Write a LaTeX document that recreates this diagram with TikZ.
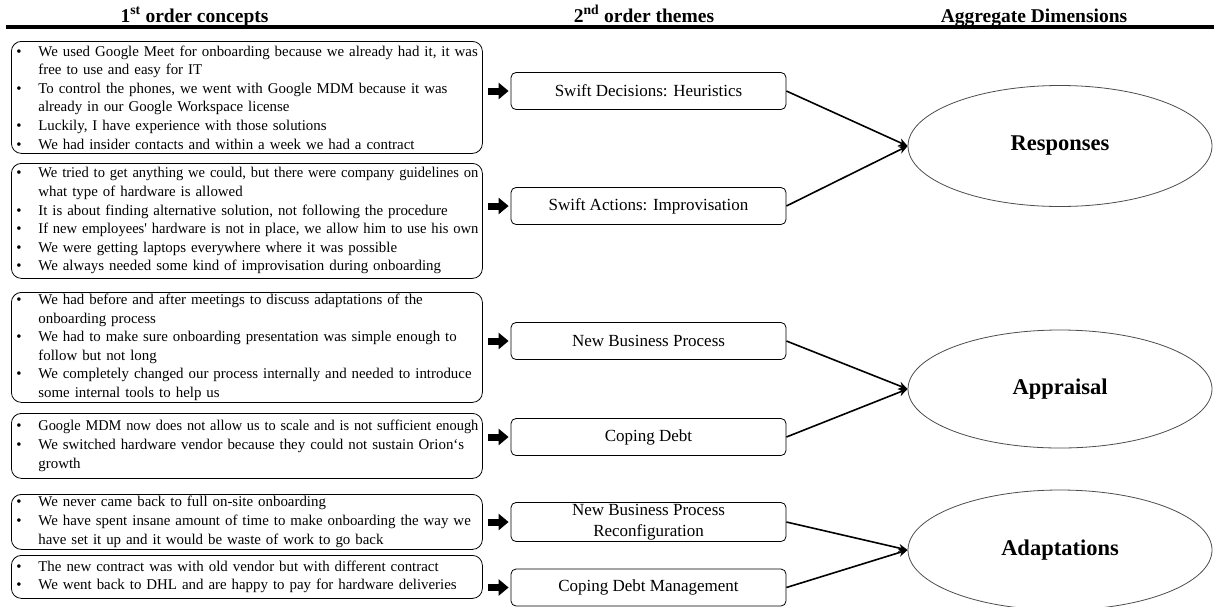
\documentclass[tikz,border=0pt]{standalone}
\usepackage{fontspec}
\setmainfont{Liberation Serif}
\usepackage{graphicx}
\usepackage{tikz}
\usetikzlibrary{shapes,positioning,arrows.meta}
\newcommand{\qline}[1]{\makebox[24.5pt][l]{\hspace{2.5pt}\textbullet}\mbox{#1}}
\newcommand{\qfit}[1]{\makebox[24.5pt][l]{\hspace{2.5pt}\textbullet}\resizebox{440pt}{\height}{#1}}
\newcommand{\qmore}[1]{\hspace*{24.5pt}\mbox{#1}}
\tikzset{concept/.style={draw,rounded corners=10pt,anchor=north west,text width=466pt,inner xsep=2.5pt,inner ysep=1pt,align=left,line width=0.8pt,font=\fontsize{14.9}{18.6}\selectfont}}
\tikzset{theme/.style={draw,rounded corners=5pt,minimum width=275pt,minimum height=37pt,inner sep=0pt,align=center,line width=0.8pt,font=\fontsize{17}{20.5}\selectfont}}
\tikzset{dimell/.style={ellipse,draw=black!70,line width=0.8pt,minimum width=304pt,minimum height=120pt,inner sep=0pt,font=\fontsize{22.5}{26}\selectfont\bfseries}}
\tikzset{colhead/.style={anchor=base,inner sep=0pt,font=\fontsize{19.5}{22}\selectfont\bfseries}}
\tikzset{fat/.style={line width=7pt,-{Triangle[length=10pt,width=16pt]},shorten <=5pt,shorten >=2pt}}

\begin{document}
\begin{tikzpicture}[x=1pt,y=-1pt,>={Stealth[length=9pt,width=8pt]}]
    \useasboundingbox (0,0) rectangle (1214,606);

    \node[colhead] (h1) at (194.5,22.5) {1\textsuperscript{st} order concepts};
    \node[colhead] (h2) at (644,22.5) {2\textsuperscript{nd} order themes};
    \node[colhead] (h3) at (1034,22.5) {Aggregate Dimensions};
    \draw[line width=4pt] (6,27) -- (1214,27);

    \node[concept,minimum height=112pt] (c1) at (11,41) {\qline{We used Google Meet for onboarding because we already had it, it was}\\
        \qmore{free to use and easy for IT}\\
        \qline{To control the phones, we went with Google MDM because it was}\\
        \qmore{already in our Google Workspace license}\\
        \qline{Luckily, I have experience with those solutions}\\
        \qline{We had insider contacts and within a week we had a contract}};
    \node[concept,minimum height=115pt] (c2) at (11,163) {\qfit{We tried to get anything we could, but there were company guidelines on}\\
        \qmore{what type of hardware is allowed}\\
        \qline{It is about finding alternative solution, not following the procedure}\\
        \qfit{If new employees\textquotesingle\ hardware is not in place, we allow him to use his own}\\
        \qline{We were getting laptops everywhere where it was possible}\\
        \qline{We always needed some kind of improvisation during onboarding}};
    \node[concept,minimum height=110pt] (c3) at (11,292) {\qline{We had before and after meetings to discuss adaptations of the}\\
        \qmore{onboarding process}\\
        \qline{We had to make sure onboarding presentation was simple enough to}\\
        \qmore{follow but not long}\\
        \qline{We completely changed our process internally and needed to introduce}\\
        \qmore{some internal tools to help us}};
    \node[concept,minimum height=65pt] (c4) at (11,413) {\qfit{Google MDM now does not allow us to scale and is not sufficient enough}\\
        \qline{We switched hardware vendor because they could not sustain Orion‘s}\\
        \qmore{growth}};
    \node[concept,minimum height=55pt] (c5) at (11,494) {\qline{We never came back to full on-site onboarding}\\
        \qline{We have spent insane amount of time to make onboarding the way we}\\
        \qmore{have set it up and it would be waste of work to go back}};
    \node[concept,minimum height=43pt] (c6) at (11,555) {\qline{The new contract was with old vendor but with different contract}\\
        \qline{We went back to DHL and are happy to pay for hardware deliveries}};

    \node[theme] (t1) at (648.5,91) {Swift Decisions: Heuristics};
    \node[theme] (t2) at (648.5,206) {Swift Actions: Improvisation};
    \node[theme] (t3) at (648.5,341) {New Business Process};
    \node[theme] (t4) at (648.5,437) {Coping Debt};
    \node[theme,minimum height=39pt] (t5) at (648.5,522) {New Business Process\\Reconfiguration};
    \node[theme] (t6) at (648.5,587.5) {Coping Debt Management};

    \node[dimell,minimum height=121pt] (r1) at (1060,146) {Responses};
    \node[dimell,minimum height=118pt] (r2) at (1060,389) {Appraisal};
    \node[dimell,minimum height=120pt] (r3) at (1060,550) {Adaptations};

    \draw [fat] (c1.east |- t1.west) to [] (t1.west);
    \draw [fat] (c2.east |- t2.west) to [] (t2.west);
    \draw [fat] (c3.east |- t3.west) to [] (t3.west);
    \draw [fat] (c4.east |- t4.west) to [] (t4.west);
    \draw [fat] (c5.east |- t5.west) to [] (t5.west);
    \draw [fat] (c6.east |- t6.west) to [] (t6.west);

    \draw [->,line width=1.6pt] (t1.east) to [] (r1.west);
    \draw [->,line width=1.6pt] (t2.east) to [] (r1.west);
    \draw [->,line width=1.6pt] (t3.east) to [] (r2.west);
    \draw [->,line width=1.6pt] (t4.east) to [] (r2.west);
    \draw [->,line width=1.6pt] (t5.east) to [] (r3.west);
    \draw [->,line width=1.6pt] (t6.east) to [] (r3.west);
\end{tikzpicture}
\end{document}
